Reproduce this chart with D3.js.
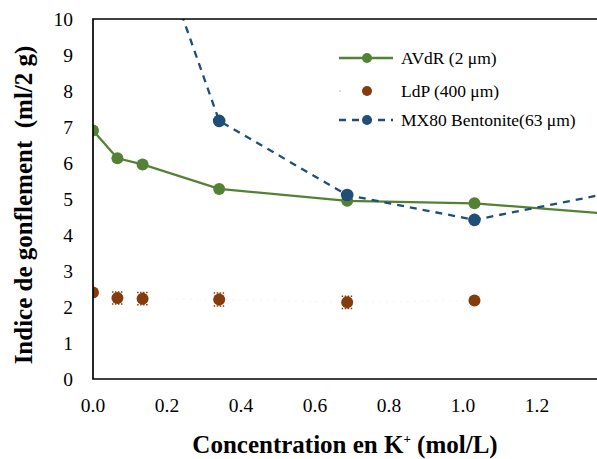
<!DOCTYPE html>
<html lang="fr">
  <head>
    <meta charset="UTF-8" />
    <title>gonflement</title>
    <style>
      body { margin: 0; background: #fff; }
    </style>
  </head>
  <body>
    <svg id="chart" width="597" height="459"></svg>
    <script src="https://cdn.jsdelivr.net/npm/d3@7/dist/d3.min.js"></script>
    <script>
      var width = 597;
      var height = 459;
      var margin = { top: 19, bottom: 80, left: 93 };
      var serif = 'Liberation Serif';

      // concentrations K+ (mol/L)
      var avdrX = [0, 0.066, 0.134, 0.341, 0.687, 1.031, 1.72];
      var avdrY = [6.90, 6.13, 5.96, 5.28, 4.95, 4.88, 4.33];
      var ldpX = [0, 0.066, 0.134, 0.341, 0.687, 1.031];
      var ldpY = [2.40, 2.25, 2.23, 2.21, 2.13, 2.18];
      var ldpErr = [0, 0.17, 0.17, 0.18, 0.17, 0];
      var mxX = [0.134, 0.341, 0.687, 1.031, 1.72];
      var mxY = [13.2, 7.17, 5.11, 4.42, 5.82];
      var xTicks = [0, 0.2, 0.4, 0.6, 0.8, 1.0, 1.2];
      var yTicks = [0, 1, 2, 3, 4, 5, 6, 7, 8, 9, 10];

      var green = '#548235';
      var brown = '#843c0c';
      var blue = '#1f4e79';

      var svg = d3.select('#chart');
      var x = d3.scaleLinear().domain([0, 1.4]).range([margin.left, margin.left + 518]);
      var y = d3.scaleLinear().domain([0, 10]).range([height - margin.bottom, margin.top]);

      svg.append('defs').append('clipPath').attr('id', 'plot')
        .append('rect')
        .attr('x', margin.left).attr('y', margin.top)
        .attr('width', width - margin.left + 10)
        .attr('height', height - margin.top - margin.bottom);

      var zip = (xs, ys) => xs.map((v, i) => ({ x: v, y: ys[i] }));
      var avdr = zip(avdrX, avdrY);
      var ldp = ldpX.map((v, i) => ({ x: v, y: ldpY[i], e: ldpErr[i] }));
      var mx = zip(mxX, mxY);

      var line = d3.line().x(d => x(d.x)).y(d => y(d.y));
      var g = svg.append('g').attr('clip-path', 'url(#plot)');

      g.append('path').attr('d', line(ldp)).attr('fill', 'none')
        .attr('stroke', '#ecdcd0').attr('stroke-width', 0.8).attr('stroke-dasharray', '1,6');
      g.append('path').attr('d', line(avdr)).attr('fill', 'none')
        .attr('stroke', green).attr('stroke-width', 2.3);
      g.append('path').attr('d', line(mx)).attr('fill', 'none')
        .attr('stroke', blue).attr('stroke-width', 2.3).attr('stroke-dasharray', '7,6');

      // error bars LdP (dotted caps)
      var eb = g.append('g').attr('stroke', brown).attr('stroke-width', 1.5).attr('stroke-dasharray', '1.5,1.5');
      ldp.filter(d => d.e > 0).forEach(d => {
        [d.y - d.e, d.y + d.e].forEach(v => {
          eb.append('line').attr('x1', x(d.x) - 5.5).attr('x2', x(d.x) + 6)
            .attr('y1', y(v)).attr('y2', y(v));
          eb.append('line').attr('x1', x(d.x)).attr('x2', x(d.x))
            .attr('y1', y(d.y)).attr('y2', y(v));
        });
      });

      function dots(data, col, r) {
        g.append('g').selectAll('circle').data(data).join('circle')
          .attr('cx', d => x(d.x)).attr('cy', d => y(d.y)).attr('r', r).attr('fill', col);
      }
      dots(ldp, brown, 6);
      dots(avdr, green, 6);
      dots(mx, blue, 6.3);

      // frame
      svg.append('path')
        .attr('d', `M${width + 5},${y(10)}H${x(0)}V${y(0)}H${width + 5}`)
        .attr('fill', 'none').attr('stroke', '#000').attr('stroke-width', 1.7);

      svg.append('g').selectAll('text').data(yTicks).join('text')
        .attr('font-family', serif)
        .attr('x', 73).attr('y', d => y(d)).attr('dy', '0.35em')
        .attr('text-anchor', 'end').attr('font-size', 19.5).text(d => d);

      svg.append('g').selectAll('text').data(xTicks).join('text')
        .attr('font-family', serif)
        .attr('x', d => x(d)).attr('y', 405).attr('dy', '0.35em')
        .attr('text-anchor', 'middle').attr('font-size', 19.5).text(d => d3.format('.1f')(d));

      svg.append('text')
        .attr('font-family', serif)
        .attr('transform', 'translate(32,205) rotate(-90)')
        .attr('text-anchor', 'middle').attr('font-size', 25).attr('font-weight', 'bold')
        .attr('xml:space', 'preserve')
        .text('Indice de gonflement  (ml/2 g)');

      var xt = svg.append('text').attr('x', 345).attr('y', 453)
        .attr('font-family', serif)
        .attr('text-anchor', 'middle').attr('font-size', 25).attr('font-weight', 'bold');
      xt.append('tspan').text('Concentration en K');
      xt.append('tspan').attr('font-size', 13).attr('dy', -10).text('+');
      xt.append('tspan').attr('dy', 10).text(' (mol/L)');

      // legend
      var leg = [
        { name: 'AVdR (2 μm)', col: green, dash: null, w: 2.3 },
        { name: 'LdP (400 μm)', col: brown, dash: null, w: 0 },
        { name: 'MX80 Bentonite(63 μm)', col: blue, dash: '7,6', w: 2.3 }
      ];
      var lg = svg.append('g').selectAll('g').data(leg).join('g')
        .attr('transform', (d, i) => `translate(339,${[58, 91, 120][i]})`);
      lg.filter(d => d.w > 0).append('line')
        .attr('x1', 0).attr('x2', 54).attr('stroke', d => d.col)
        .attr('stroke-width', d => d.w).attr('stroke-dasharray', d => d.dash);
      lg.filter(d => d.w === 0).append('circle').attr('cx', 1).attr('r', 0.7).attr('fill', '#c89070');
      lg.append('circle').attr('cx', 28).attr('r', 5).attr('fill', d => d.col);
      lg.append('text').attr('x', 62).attr('dy', '0.35em').attr('font-size', 17.5)
        .attr('font-family', serif)
        .text(d => d.name);
    </script>
  </body>
</html>
